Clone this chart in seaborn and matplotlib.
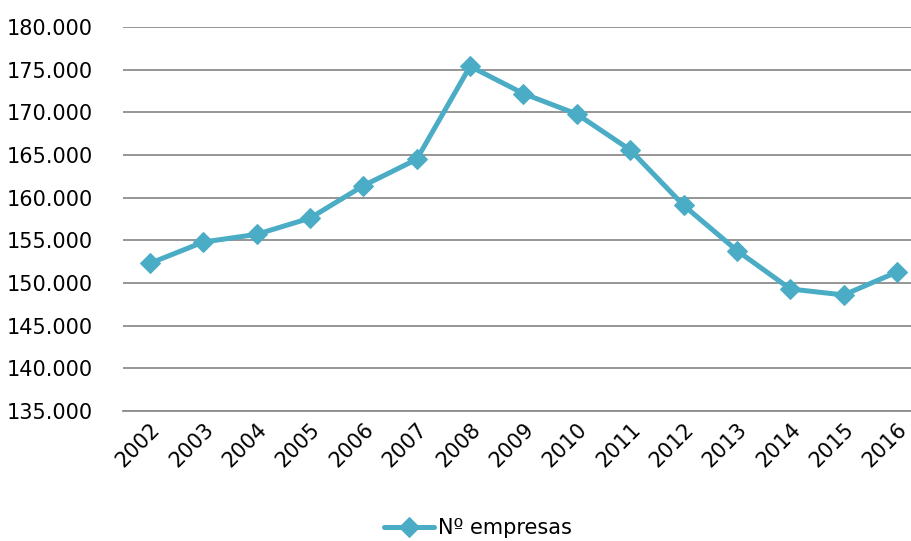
import matplotlib
matplotlib.use("Agg")
import matplotlib.pyplot as plt
import matplotlib.ticker as mticker
import pandas as pd
import seaborn as sns

years = ["2002", "2003", "2004", "2005", "2006", "2007", "2008", "2009",
         "2010", "2011", "2012", "2013", "2014", "2015", "2016"]
empresas = [152300, 154800, 155700, 157600, 161400, 164500, 175400, 172200,
            169800, 165600, 159100, 153800, 149300, 148600, 151300]

df = pd.DataFrame({"year": years, "empresas": empresas})
color = "#4BACC6"

sns.set_style("white")
plt.rcParams["font.family"] = ["DejaVu Sans"]
plt.rcParams["text.color"] = "black"

fig = plt.figure(figsize=(9.12, 5.41), dpi=100)
ax = fig.add_axes([0.135, 0.2403, 0.878, 0.7097])

sns.lineplot(data=df, x="year", y="empresas", ax=ax, color=color, linewidth=3.6,
             marker="D", markersize=10.5, markeredgecolor=color, sort=False,
             label="Nº empresas")

ax.set_xlim(-0.5, len(years) - 0.5)
ax.set_ylim(135000, 180000)
ax.yaxis.set_major_locator(mticker.MultipleLocator(5000))
ax.yaxis.set_major_formatter(
    mticker.FuncFormatter(lambda v, p: f"{int(v):,}".replace(",", ".")))
ax.grid(axis="y", color="#8c8c8c", linewidth=1.3)
ax.set_axisbelow(True)
for s in ["top", "right", "left"]:
    ax.spines[s].set_visible(False)
ax.spines["bottom"].set_color("#8c8c8c")
ax.spines["bottom"].set_linewidth(1.3)
ax.tick_params(axis="both", length=0, labelsize=15, colors="black")
ax.tick_params(axis="y", pad=22)
ax.tick_params(axis="x", pad=6)
plt.setp(ax.get_xticklabels(), rotation=45, ha="right", rotation_mode="anchor")
ax.set_xlabel("")
ax.set_ylabel("")

leg = ax.legend(loc="center", bbox_to_anchor=(478 / 912, 0.024),
                bbox_transform=fig.transFigure, frameon=False, fontsize=15,
                handlelength=2.4, handletextpad=0.2)
for t in leg.get_texts():
    t.set_color("black")

fig.savefig("out.png", dpi=100)
